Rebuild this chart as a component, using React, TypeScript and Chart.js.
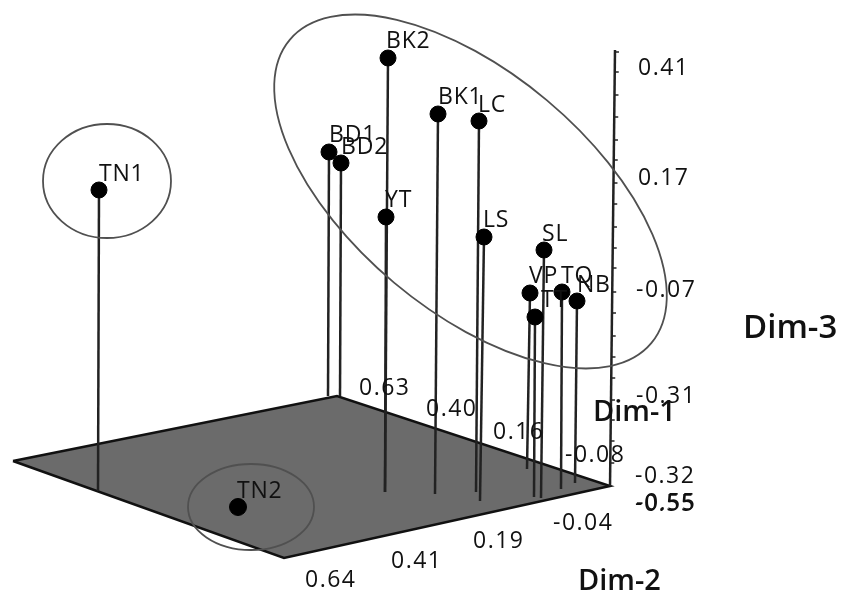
import React, { useEffect, useRef } from "react";
import { Chart, registerables } from "chart.js";

Chart.register(...registerables);

const pointNames = ["BK2", "BK1", "LC", "BD1", "BD2", "YT", "LS", "SL", "VP", "TT", "TQ", "NB", "TN1"];
const pointX = [388, 438, 479, 329, 341, 386, 484, 544, 530, 535, 562, 577, 99];
const pointY = [58, 114, 121, 152, 163, 217, 237, 250, 293, 317, 292, 301, 190];
const baseX = [385, 435, 476, 328, 340, 385, 480, 541, 527, 534, 561, 575, 98];
const baseY = [492, 494, 492, 396, 396, 492, 501, 498, 469, 497, 489, 483, 491];
const labelX = [386, 438, 478, 329, 341, 385, 483, 542, 529, 541, 561, 577, 99];
const labelY = [48, 104, 112, 142, 154, 207, 227, 241, 283, 307, 283, 292, 181];

const floorX = [13, 337, 610, 284, 13];
const floorY = [461, 396, 486, 558, 461];

const axisX = [615, 610];
const axisY = [50, 486];
const axisTickY = [52, 72, 95, 117, 140, 160, 183, 204, 227, 248, 268, 292, 313, 336, 357, 378, 400, 420, 441, 463];

const tickText = ["0.41", "0.17", "-0.07", "-0.31", "-0.32", "-0.55", "-0.55", "0.63", "0.40", "0.16", "-0.08", "0.64", "0.41", "0.19", "-0.04"];
const tickX = [638, 638, 636, 636, 635, 635, 636, 359, 426, 493, 565, 305, 391, 473, 553];
const tickY = [75, 185, 297, 403, 483, 511, 510, 395, 416, 439, 462, 587, 568, 548, 530];

const axisNames = ["Dim-3", "Dim-1", "Dim-2"];
const axisNameX = [743, 593, 578];
const axisNameY = [338, 421, 590];
const axisNameSize = [33, 29, 29];

const ellipseCX = [470.5, 107, 251];
const ellipseCY = [191.5, 181, 507];
const ellipseRX = [236, 64, 63];
const ellipseRY = [119, 57, 43];
const ellipseAngle = [40, 0, 0];

const soloPointX = [238];
const soloPointY = [507];
const soloName = ["TN2"];
const soloLabelX = [237];
const soloLabelY = [498];

const sceneryPlugin = {
  id: "scenery",
  afterDatasetsDraw(chart: any) {
    const { ctx, scales } = chart;
    const sx = scales.x;
    const sy = scales.y;
    ctx.save();
    ctx.strokeStyle = "#505050";
    ctx.lineWidth = 1.8;
    ellipseCX.forEach((cx, i) => {
      ctx.beginPath();
      ctx.ellipse(
        sx.getPixelForValue(cx),
        sy.getPixelForValue(ellipseCY[i]),
        ellipseRX[i],
        ellipseRY[i],
        (ellipseAngle[i] * Math.PI) / 180,
        0,
        Math.PI * 2
      );
      ctx.stroke();
    });
    ctx.strokeStyle = "#222222";
    ctx.lineWidth = 1.5;
    axisTickY.forEach((v) => {
      const t = (v - axisY[0]) / (axisY[1] - axisY[0]);
      const ax = axisX[0] + t * (axisX[1] - axisX[0]);
      ctx.beginPath();
      ctx.moveTo(sx.getPixelForValue(ax), sy.getPixelForValue(v));
      ctx.lineTo(sx.getPixelForValue(ax + 4), sy.getPixelForValue(v));
      ctx.stroke();
    });
    ctx.fillStyle = "#111111";
    ctx.textBaseline = "alphabetic";
    ctx.textAlign = "left";
    ctx.font = '23px "Open Sans"';
    ctx.letterSpacing = "1.5px";
    tickText.forEach((t, i) => {
      ctx.fillText(t, sx.getPixelForValue(tickX[i]), sy.getPixelForValue(tickY[i]));
    });
    ctx.letterSpacing = "0px";
    axisNames.forEach((t, i) => {
      ctx.font = `600 ${axisNameSize[i]}px "Open Sans"`;
      ctx.fillText(t, sx.getPixelForValue(axisNameX[i]), sy.getPixelForValue(axisNameY[i]));
    });
    ctx.font = '23px "Open Sans"';
    ctx.letterSpacing = "0.8px";
    pointNames.forEach((t, i) => {
      ctx.fillText(t, sx.getPixelForValue(labelX[i]), sy.getPixelForValue(labelY[i]));
    });
    soloName.forEach((t, i) => {
      ctx.fillText(t, sx.getPixelForValue(soloLabelX[i]), sy.getPixelForValue(soloLabelY[i]));
    });
    ctx.restore();
  },
};

export default function App() {
  const ref = useRef<HTMLCanvasElement>(null);
  useEffect(() => {
    document.body.style.margin = "0";
    const stems = pointNames.map((n, i) => ({
      type: "line" as const,
      label: n + " stem",
      data: [
        { x: pointX[i], y: pointY[i] },
        { x: baseX[i], y: baseY[i] },
      ],
      borderColor: "#222222",
      borderWidth: 2.5,
      pointRadius: 0,
      showLine: true,
      order: 2,
    }));
    const chart = new Chart(ref.current!, {
      type: "scatter",
      data: {
        datasets: [
          {
            type: "scatter",
            label: "Points",
            data: pointX.map((x, i) => ({ x, y: pointY[i] })),
            backgroundColor: "#000000",
            borderColor: "#000000",
            pointRadius: 8,
            order: 0,
          },
          {
            type: "scatter",
            label: "TN2",
            data: soloPointX.map((x, i) => ({ x, y: soloPointY[i] })),
            backgroundColor: "#000000",
            borderColor: "#000000",
            pointRadius: 8.5,
            order: 0,
          },
          ...stems,
          {
            type: "line",
            label: "Dim-3 axis",
            data: axisX.map((x, i) => ({ x, y: axisY[i] })),
            borderColor: "#222222",
            borderWidth: 2.5,
            pointRadius: 0,
            order: 3,
          },
          {
            type: "line",
            label: "Floor",
            data: floorX.map((x, i) => ({ x, y: floorY[i] })),
            borderColor: "#111111",
            borderWidth: 2.5,
            backgroundColor: "#6b6b6b",
            fill: "shape",
            pointRadius: 0,
            order: 4,
          },
        ] as any,
      },
      options: {
        animation: false,
        responsive: false,
        layout: { padding: 0, autoPadding: false },
        parsing: false,
        plugins: { legend: { display: false }, tooltip: { enabled: false } },
        scales: {
          x: { type: "linear", min: 0, max: 842, display: false },
          y: { type: "linear", min: 0, max: 594, reverse: true, display: false },
        },
      } as any,
      plugins: [sceneryPlugin],
    });
    return () => chart.destroy();
  }, []);
  return <canvas ref={ref} width={842} height={594} style={{ display: "block" }} />;
}
